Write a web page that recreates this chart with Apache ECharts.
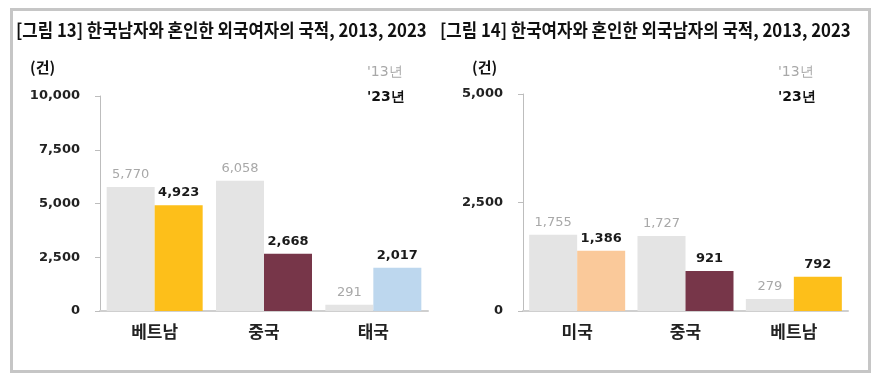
<!DOCTYPE html>
<html>
<head>
<meta charset="utf-8">
<script src="https://cdn.jsdelivr.net/npm/echarts@6/dist/echarts.min.js"></script>
<style>
html,body{margin:0;padding:0;background:#fff;}
#c{width:896px;height:388px;}
</style>
</head>
<body>
<div id="c"></div>
<script>
// ---- data ----
const titleLeft = '[그림 13] 한국남자와 혼인한 외국여자의 국적, 2013, 2023';
const titleRight = '[그림 14] 한국여자와 혼인한 외국남자의 국적, 2013, 2023';
const unitLabel = '(건)';
const seriesNames = ["'13년", "'23년"];

const catsLeft = ['베트남', '중국', '태국'];
const left2013 = [5770, 6058, 291];
const left2023 = [4923, 2668, 2017];

const catsRight = ['미국', '중국', '베트남'];
const right2013 = [1755, 1727, 279];
const right2023 = [1386, 921, 792];

const yMaxLeft = 10000, yStepLeft = 2500;
const yMaxRight = 5000, yStepRight = 2500;

// ---- styles ----
const gray13 = '#e4e4e4';
const colorsLeft23 = ['#fdbf1a', '#773649', '#bdd7ee'];
const colorsRight23 = ['#fac99a', '#773649', '#fdbf1a'];
const numFont = 'DejaVu Sans';
const krFont = 'Noto Sans CJK KR';

const chart = echarts.init(document.getElementById('c'));

function yAxis(gi, max, step) {
  return {
    type: 'value', gridIndex: gi, min: 0, max: max, interval: step,
    axisLine: {show: true, lineStyle: {color: '#bdbdbd', width: 1}},
    axisTick: {show: true, length: 5, lineStyle: {color: '#bdbdbd'}},
    splitLine: {show: false},
    axisLabel: {
      margin: 20, color: '#222', fontFamily: numFont, fontWeight: 'bold', fontSize: 13,
      formatter: v => v.toLocaleString('en-US')
    }
  };
}
function xAxis(gi, cats) {
  return {
    type: 'category', gridIndex: gi, data: cats,
    axisLine: {show: true, lineStyle: {color: '#cfcfcf', width: 2}},
    axisTick: {show: false},
    axisLabel: {margin: 12, color: '#222', fontFamily: krFont, fontWeight: 'bold', fontSize: 17}
  };
}
function s13(gi, vals) {
  return {
    name: seriesNames[0], type: 'bar', xAxisIndex: gi, yAxisIndex: gi,
    data: vals, barWidth: 48, barGap: '0%',
    itemStyle: {color: gray13},
    label: {show: true, position: 'top', distance: 6, color: '#a8a8a8',
      fontFamily: numFont, fontSize: 13, formatter: p => p.value.toLocaleString('en-US')}
  };
}
function s23(gi, vals, colors) {
  return {
    name: seriesNames[1], type: 'bar', xAxisIndex: gi, yAxisIndex: gi,
    data: vals.map((v, i) => ({value: v, itemStyle: {color: colors[i]}})),
    barWidth: 48, barGap: '0%',
    itemStyle: {color: colors[0]},
    label: {show: true, position: 'top', distance: 6, color: '#1a1a1a',
      fontFamily: numFont, fontWeight: 'bold', fontSize: 13, formatter: p => p.value.toLocaleString('en-US')}
  };
}
function legend(left) {
  return {
    orient: 'vertical', left: left, top: 60, itemWidth: 0, itemHeight: 0, itemGap: 11,
    selectedMode: false,
    data: [
      {name: seriesNames[0], icon: 'none', textStyle: {color: '#a8a8a8', fontFamily: numFont, fontSize: 14}},
      {name: seriesNames[1], icon: 'none', textStyle: {color: '#111', fontFamily: numFont, fontWeight: 'bold', fontSize: 14}}
    ]
  };
}
function txt(x, y, text, style) {
  return {type: 'text', left: x, top: y, style: Object.assign({text: text, fill: '#111'}, style)};
}

chart.setOption({
  animation: false,
  backgroundColor: '#ffffff',
  grid: [
    {left: 100, right: 468, top: 96, bottom: 77},
    {left: 523, right: 48, top: 94, bottom: 77}
  ],
  xAxis: [xAxis(0, catsLeft), xAxis(1, catsRight)],
  yAxis: [yAxis(0, yMaxLeft, yStepLeft), yAxis(1, yMaxRight, yStepRight)],
  legend: [legend(357), legend(768)],
  series: [
    s13(0, left2013), s23(0, left2023, colorsLeft23),
    s13(1, right2013), s23(1, right2023, colorsRight23)
  ],
  graphic: [
    {type: 'rect', left: 9, top: 7, shape: {width: 858, height: 362},
      style: {fill: 'none', stroke: '#c6c6c6', lineWidth: 3}},
    {type: 'text', x: 16, y: 21, scaleX: 0.93,
      style: {text: titleLeft, fill: '#111', font: 'bold 18px "Noto Sans CJK KR"'}},
    {type: 'text', x: 440, y: 21, scaleX: 0.93,
      style: {text: titleRight, fill: '#111', font: 'bold 18px "Noto Sans CJK KR"'}},
    txt(30, 60, unitLabel, {font: 'bold 15px "Noto Sans CJK KR"'}),
    txt(472, 60, unitLabel, {font: 'bold 15px "Noto Sans CJK KR"'})
  ]
});
</script>
</body>
</html>
